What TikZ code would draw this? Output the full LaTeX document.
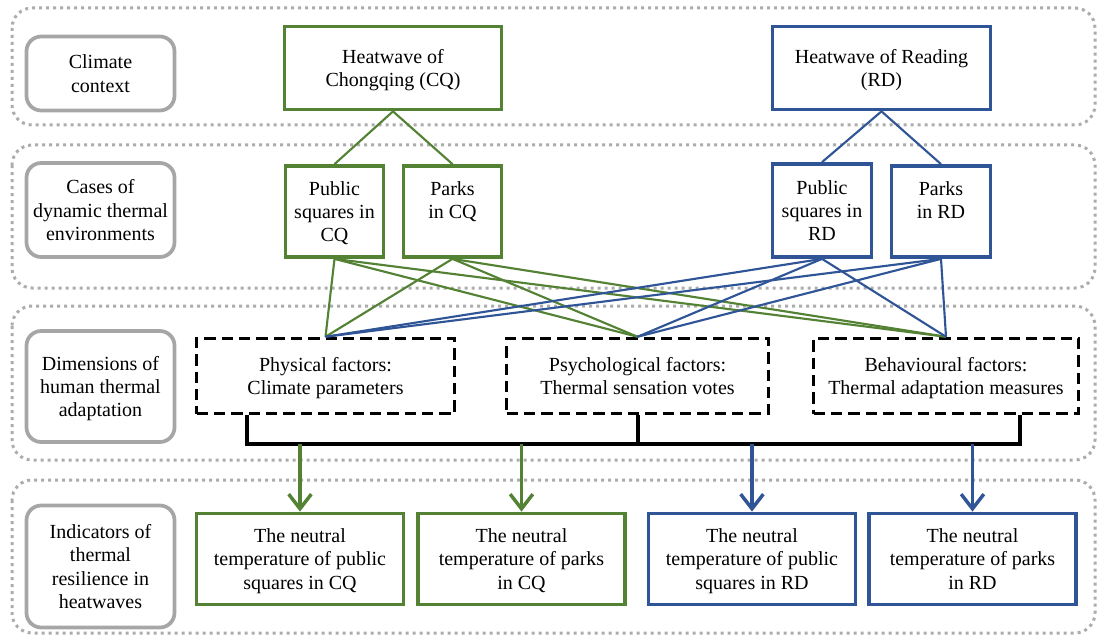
\documentclass[tikz,border=0pt]{standalone}
\usepackage{fontspec}
\setmainfont{Liberation Serif}
\usepackage{tikz}
\usetikzlibrary{arrows.meta}

\definecolor{cqgreen}{RGB}{84,130,53}
\definecolor{rdblue}{RGB}{47,85,151}
\definecolor{bandgray}{RGB}{172,172,172}
\definecolor{layergray}{RGB}{166,166,166}

\begin{document}
\begin{tikzpicture}[x=0.75pt,y=0.75pt,yscale=-1,xscale=1,
  every node/.style={font=\fontsize{15}{17.5}\selectfont, align=center, inner sep=0pt, text depth=-4.5pt},
  band/.style={draw=bandgray, line width=2.25pt, dash pattern=on 2.25pt off 3pt, rounded corners=15pt},
  layerbox/.style={draw=layergray, line width=2.8pt, rounded corners=11pt, minimum width=111pt},
  cqbox/.style={draw=cqgreen, line width=2.8pt},
  rdbox/.style={draw=rdblue, line width=2.8pt},
  dimbox/.style={draw=black, line width=2.6pt, dash pattern=on 8.5pt off 4.5pt, minimum height=56.25pt},
  cqline/.style={draw=cqgreen, line width=1.6pt},
  rdline/.style={draw=rdblue, line width=1.6pt},
  busline/.style={draw=black, line width=3pt},
  cqarrow/.style={draw=cqgreen, line width=2.6pt, -{Straight Barb[length=11pt,width=17pt]}},
  rdarrow/.style={draw=rdblue, line width=2.6pt, -{Straight Barb[length=11pt,width=17pt]}}
]
\useasboundingbox (0,0) rectangle (1097,635);

% Dotted bands
\draw [band] (12,8) rectangle (1095,125);
\draw [band] (12,145) rectangle (1095,288);
\draw [band] (12,306) rectangle (1095,460);
\draw [band] (12,480) rectangle (1095,633);

% Layer names
\node [layerbox, minimum height=55.5pt] (climate) at (100.5,73.5) {Climate\\context};
\node [layerbox, minimum height=70.5pt] (cases) at (100.5,210) {Cases of\\dynamic thermal\\environments};
\node [layerbox, minimum height=83.25pt] (dims) at (100.5,386.5) {Dimensions of\\human thermal\\adaptation};
\node [layerbox, minimum height=91.5pt] (indic) at (100.5,566.5) {Indicators of\\thermal\\resilience in\\heatwaves};

% Climate context
\node [cqbox, minimum width=162.75pt, minimum height=62.25pt] (hwCQ) at (393,68) {Heatwave of\\Chongqing (CQ)};
\node [rdbox, minimum width=163.5pt, minimum height=62.25pt] (hwRD) at (881.5,68) {Heatwave of Reading\\(RD)};

% Cases
\node [cqbox, minimum width=73.5pt, minimum height=68.25pt] (psCQ) at (334.5,211.5) {Public\\squares in\\CQ};
\node [cqbox, minimum width=73.5pt, minimum height=68.25pt] (pkCQ) at (452.5,211.5) {Parks\\in CQ\\\mbox{}};
\node [rdbox, minimum width=74.25pt, minimum height=69.75pt] (psRD) at (822,210.5) {Public\\squares in\\RD};
\node [rdbox, minimum width=74.25pt, minimum height=68.25pt] (pkRD) at (941,211.5) {Parks\\in RD\\\mbox{}};

% Dimensions
\node [dimbox, minimum width=193.5pt] (phys) at (325.5,376) {Physical factors:\\Climate parameters};
\node [dimbox, minimum width=196.5pt] (psych) at (637.5,376) {Psychological factors:\\Thermal sensation votes};
\node [dimbox, minimum width=198.75pt] (behav) at (946,376) {Behavioural factors:\\Thermal adaptation measures};

% Indicators
\node [cqbox, minimum width=155.25pt, minimum height=68.25pt] (tnPsCQ) at (300,559) {The neutral\\temperature of public\\squares in CQ};
\node [cqbox, minimum width=155.25pt, minimum height=68.25pt] (tnPkCQ) at (521.5,559) {The neutral\\temperature of parks\\in CQ};
\node [rdbox, minimum width=155.25pt, minimum height=68.25pt] (tnPsRD) at (752,559) {The neutral\\temperature of public\\squares in RD};
\node [rdbox, minimum width=155.25pt, minimum height=68.25pt] (tnPkRD) at (972.5,559) {The neutral\\temperature of parks\\in RD};

% Straight Lines: heatwaves to cases
\draw [cqline] (hwCQ.south) -- (psCQ.north);
\draw [cqline] (hwCQ.south) -- (pkCQ.north);
\draw [rdline] (hwRD.south) -- (psRD.north);
\draw [rdline] (hwRD.south) -- (pkRD.north);

% Straight Lines: cases to dimensions
\draw [cqline] (psCQ.south) -- (phys.north);
\draw [cqline] (psCQ.south) -- (psych.north);
\draw [cqline] (psCQ.south) -- (behav.north);
\draw [cqline] (pkCQ.south) -- (phys.north);
\draw [cqline] (pkCQ.south) -- (psych.north);
\draw [cqline] (pkCQ.south) -- (behav.north);
\draw [rdline] (psRD.south) -- (phys.north);
\draw [rdline] (psRD.south) -- (psych.north);
\draw [rdline] (psRD.south) -- (behav.north);
\draw [rdline] (pkRD.south) -- (phys.north);
\draw [rdline] (pkRD.south) -- (psych.north);
\draw [rdline] (pkRD.south) -- (behav.north);

% Bus under the dimensions
\coordinate (busL) at (247,444);
\coordinate (busR) at (1020,444);
\draw [busline] (phys.south -| busL) -- (busL) -- (busR) -- (behav.south -| busR);
\draw [busline] (psych.south) -- (psych.south |- busL);

% Arrows to indicators
\draw [cqarrow] (tnPsCQ.north |- busL) -- (tnPsCQ.north);
\draw [cqarrow] (tnPkCQ.north |- busL) -- (tnPkCQ.north);
\draw [rdarrow] (tnPsRD.north |- busL) -- (tnPsRD.north);
\draw [rdarrow] (tnPkRD.north |- busL) -- (tnPkRD.north);

\end{tikzpicture}
\end{document}
